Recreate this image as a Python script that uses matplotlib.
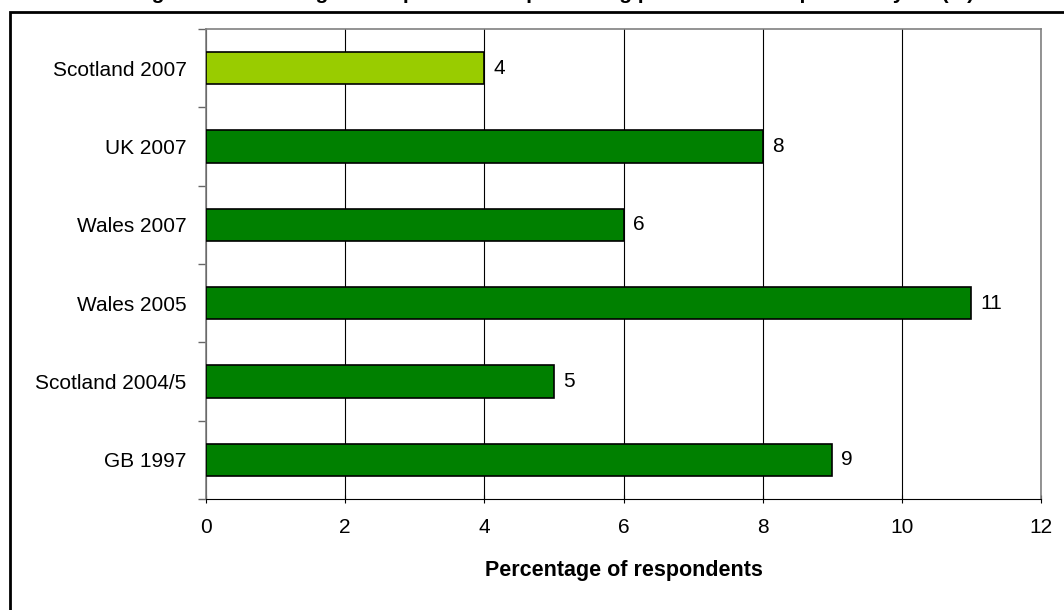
import matplotlib.pyplot as plt
from matplotlib.patches import Rectangle

plt.rcParams['font.family'] = ['Liberation Sans', 'DejaVu Sans']

categories = ["GB 1997", "Scotland 2004/5", "Wales 2005", "Wales 2007", "UK 2007", "Scotland 2007"]
values = [9, 5, 11, 6, 8, 4]
colors = ["#008000", "#008000", "#008000", "#008000", "#008000", "#99CC00"]
title = "Figure 9: Percentage of respondents experiencing problems in the previous year (%)"

fig = plt.figure(figsize=(10.64, 6.10), dpi=100)
ax = fig.add_axes([206 / 1064, 1 - 499 / 610, (1041 - 206) / 1064, (499 - 29) / 610])

ypos = list(range(len(categories)))
ax.barh(ypos, values, height=0.41, color=colors, edgecolor="black", linewidth=1.2, zorder=3)
for y, v in zip(ypos, values):
    ax.text(v + 0.13, y, str(v), va="center", ha="left", fontsize=15)

ax.set_xlim(0, 12)
ax.set_ylim(-0.5, len(categories) - 0.5)
ax.set_xticks(range(0, 13, 2))
ax.set_yticks(ypos)
ax.set_yticklabels(categories, fontsize=15)
ax.set_yticks([y + 0.5 for y in range(-1, len(categories))], minor=True)
ax.tick_params(axis="y", which="major", length=0, pad=14)
ax.tick_params(axis="y", which="minor", length=6, width=1, color="#666666")
ax.tick_params(axis="x", labelsize=15, length=6, direction="inout", pad=11)
ax.grid(axis="x", color="#000000", linewidth=0.8, zorder=0)
for s in ["top", "right", "left"]:
    ax.spines[s].set_color("#808080")
    ax.spines[s].set_linewidth(1.2)
ax.spines["bottom"].set_color("#000000")
ax.set_xlabel("Percentage of respondents", fontsize=15.5, fontweight="bold", labelpad=16)

fig.patches.append(Rectangle((10 / 1064, -0.1), 1.1, 1.1 - 12 / 610, transform=fig.transFigure,
                             fill=False, edgecolor="black", linewidth=2, clip_on=False))
# title sits above the top edge, only its descenders show
fig.text(0.52, 1 + 1 / 610, title, ha="center", va="baseline", fontsize=15, fontweight="bold")

fig.savefig("out.png", dpi=100)
